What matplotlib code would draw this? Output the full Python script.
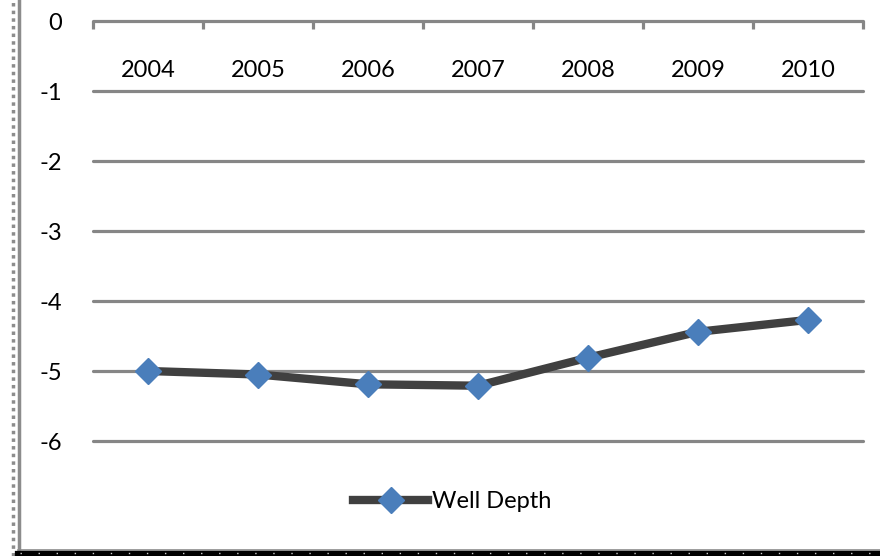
import matplotlib
matplotlib.use("Agg")
import matplotlib.pyplot as plt
from matplotlib.lines import Line2D

years = ["2004", "2005", "2006", "2007", "2008", "2009", "2010"]
well_depth = [-5.0, -5.05, -5.19, -5.21, -4.81, -4.44, -4.27]
y_ticks = [0, -1, -2, -3, -4, -5, -6]

plt.rcParams["font.family"] = ["Lato", "DejaVu Sans"]

W, H = 880, 556
fig = plt.figure(figsize=(W / 100, H / 100), dpi=100)
ax = fig.add_axes([93 / W, 1 - 441 / H, (863 - 93) / W, (441 - 21) / H])

grid_col = "#868686"
x = list(range(len(years)))

ax.set_xlim(-0.5, len(years) - 0.5)
ax.set_ylim(-6, 0)

# horizontal gridlines
for v in y_ticks[1:]:
    ax.axhline(v, color=grid_col, lw=2.3, zorder=1, solid_capstyle="round", clip_on=False)

# category axis sits on the zero line at the top
for s in ["top", "right", "left"]:
    ax.spines[s].set_visible(False)
ax.spines["bottom"].set_position(("data", 0))
ax.spines["bottom"].set_color(grid_col)
ax.spines["bottom"].set_linewidth(2.3)
ax.spines["bottom"].set_capstyle("round")

ax.set_xticks(x)
ax.set_xticklabels(years, fontsize=17)
ax.set_xticks([i - 0.5 for i in range(len(years) + 1)], minor=True)
ax.tick_params(axis="x", which="major", length=0, pad=28)
ax.tick_params(axis="x", which="minor", length=6, width=2.3, color=grid_col, direction="out")

ax.set_yticks(y_ticks)
ax.set_yticklabels([str(v) for v in y_ticks], fontsize=17)
ax.tick_params(axis="y", length=0, pad=22)

ax.plot(x, well_depth, color="#404040", lw=6, marker="D", markersize=13.5,
        markerfacecolor="#4A7EBB", markeredgecolor="#4A7EBB",
        label="Well Depth", zorder=3, clip_on=False)

leg = ax.legend(loc="center", bbox_to_anchor=(452 / W, 1 - 502 / H),
                bbox_transform=fig.transFigure, frameon=False, fontsize=17,
                handlelength=3.2, handletextpad=0.15)

# chart-area border: dotted gray on the left, dark dotted band at the bottom
fig.add_artist(Line2D([18.5 / W, 18.5 / W], [0, 1], transform=fig.transFigure,
                      color="#8c8c8c", lw=2.5))
fig.add_artist(Line2D([12.5 / W, 12.5 / W], [0, 1], transform=fig.transFigure,
                      color="#8c8c8c", lw=2.5, linestyle=(0, (1, 1.2))))
fig.add_artist(Line2D([18 / W, 1], [1 - 549.5 / H, 1 - 549.5 / H], transform=fig.transFigure,
                      color="#8c8c8c", lw=1.2))
fig.add_artist(Line2D([18 / W, 1], [1 - 553.5 / H, 1 - 553.5 / H], transform=fig.transFigure,
                      color="#000000", lw=4.5))
fig.add_artist(Line2D([20 / W, 1], [1 - 552.5 / H, 1 - 552.5 / H], transform=fig.transFigure,
                      color="#d0d0d0", lw=1.0, linestyle=(0, (1, 12))))

fig.savefig("out.png", dpi=100)
